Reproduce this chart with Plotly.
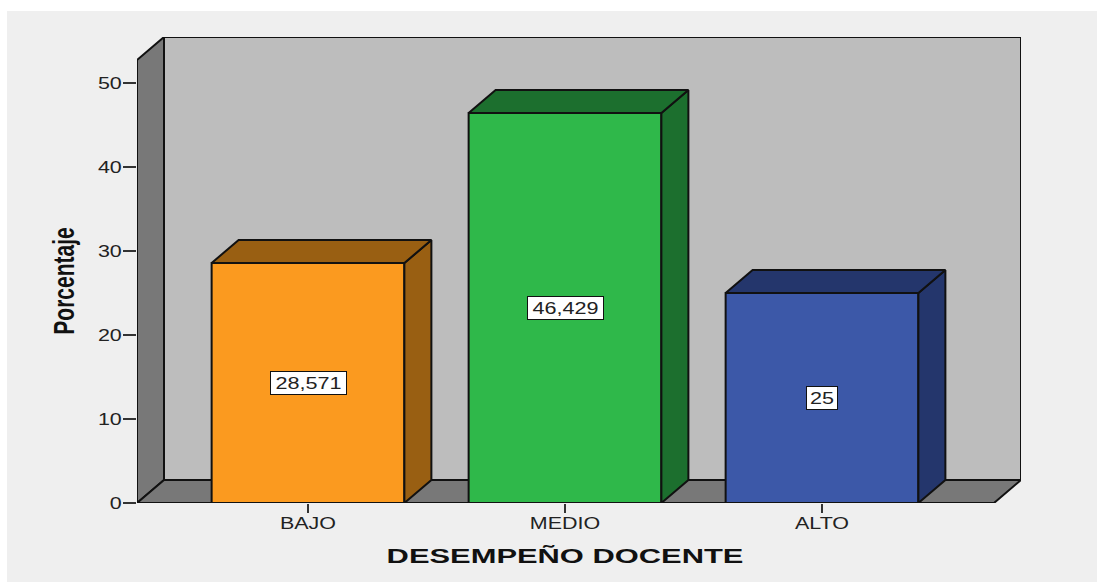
import plotly.graph_objects as go

categories = ["BAJO", "MEDIO", "ALTO"]
values = [28.571, 46.429, 25]
value_labels = ["28,571", "46,429", "25"]
label_box_widths = [71, 71, 26]
front_colors = ["#FB9A1F", "#2FB84A", "#3C58A8"]
side_colors = ["#995F12", "#1C6F2E", "#24366C"]
y_ticks = [0, 10, 20, 30, 40, 50]

W, H = 1097, 582
L, R, T, B = 137, 1021, 37, 503      # plot area in pixels
PX_Y = 8.4                            # pixels per y unit
PX_X = 257                            # pixels per category
X0 = 308                              # pixel of first category
DX = 27 / PX_X                        # 3D depth in x units
DY = 23 / PX_Y                        # 3D depth in y units
BAR_W = 0.75
x_lo = (L - X0) / PX_X
x_hi = (R - X0) / PX_X
y_hi = (B - T) / PX_Y
INK = "#111111"
WALL = "#BDBDBD"
SIDE = "#787878"
FONT = "Liberation Sans"

fig = go.Figure()


def poly(xs, ys, fill, axes=("x", "y")):
    fig.add_trace(go.Scatter(
        x=xs + xs[:1], y=ys + ys[:1], mode="lines", fill="toself", fillcolor=fill,
        line=dict(color=INK, width=2), cliponaxis=False, hoverinfo="skip",
        showlegend=False, xaxis=axes[0], yaxis=axes[1]))


# walls and floor, on the base subplot
front_top = y_hi - DY
front_right = x_hi - DX
poly([x_lo + DX, x_hi, x_hi, x_lo + DX], [DY, DY, y_hi, y_hi], WALL)
poly([x_lo, x_lo + DX, x_lo + DX, x_lo], [0, DY, y_hi, front_top], SIDE)
poly([x_lo, front_right, x_hi, x_lo + DX], [0, 0, DY, DY], SIDE)

# bars, on an overlaying subplot so they sit above the walls
xs = list(range(len(categories)))
fig.add_trace(go.Bar(
    x=xs, y=values, width=BAR_W, marker=dict(color=front_colors, line=dict(color=INK, width=2)),
    cliponaxis=False, showlegend=False, hoverinfo="skip", xaxis="x2", yaxis="y2"))
for x, v, c in zip(xs, values, side_colors):
    r = x + BAR_W / 2
    l = x - BAR_W / 2
    poly([r, r + DX, r + DX, r], [0, DY, v + DY, v], c, ("x2", "y2"))
    poly([l, r, r + DX, l + DX], [v, v, v + DY, v + DY], c, ("x2", "y2"))

annotations = [
    dict(x=x, y=v / 2, xref="x", yref="y", text=t, showarrow=False, bgcolor="#FFFFFF",
         bordercolor=INK, borderwidth=1, borderpad=2, width=bw, height=18,
         font=dict(family=FONT, size=16, color="#222222"))
    for x, v, t, bw in zip(xs, values, value_labels, label_box_widths)
]

fig.update_layout(
    width=W, height=H, autosize=False,
    margin=dict(l=L, r=W - R, t=T, b=H - B, pad=0),
    paper_bgcolor="#FFFFFF", plot_bgcolor="rgba(0,0,0,0)",
    showlegend=False, annotations=annotations,
    shapes=[dict(type="rect", xref="paper", yref="paper", layer="below",
                 x0=(7 - L) / (R - L), x1=(W - L) / (R - L),
                 y0=(B - H) / (B - T), y1=(B - 11) / (B - T),
                 fillcolor="#EFEFEF", line=dict(width=0))],
    xaxis=dict(range=[x_lo, x_hi], tickmode="array", tickvals=xs, ticktext=categories,
               showgrid=False, zeroline=False, showline=False, ticks="outside", ticklen=9,
               tickwidth=2, tickcolor="#333333", ticklabelstandoff=-3,
               tickfont=dict(family=FONT, size=16, color="#222222"),
               title=dict(text="DESEMPEÑO DOCENTE", standoff=17,
                          font=dict(family=FONT, size=21, weight=700, color="#111111"))),
    yaxis=dict(range=[0, y_hi], tickmode="array", tickvals=y_ticks,
               showgrid=False, zeroline=False, showline=False, ticks="outside", ticklen=13,
               tickwidth=2, tickcolor="#333333", ticklabelstandoff=-2,
               tickfont=dict(family=FONT, size=16, color="#222222"),
               title=dict(text="Porcentaje", standoff=20,
                          font=dict(family=FONT, size=30, weight=700, color="#111111"))),
    xaxis2=dict(overlaying="x", matches="x", visible=False),
    yaxis2=dict(overlaying="y", matches="y", visible=False),
)

# The reference is a horizontally stretched picture: widen the real text the same way.
post = """
function st(sel,f){document.querySelectorAll(sel).forEach(function(t){
  t.setAttribute('lengthAdjust','spacingAndGlyphs');
  t.setAttribute('textLength',t.getComputedTextLength()*f);});}
st('.xtick text',1.34); st('.ytick text',1.34); st('.annotation-text',1.35);
st('.xtitle',1.47); st('.ytitle',0.70);
var xt=document.querySelector('.xtitle'); if(xt){xt.setAttribute('x','565');}
var yt=document.querySelector('.ytitle');
if(yt){var px=yt.getAttribute('x'),py=parseFloat(yt.getAttribute('y'))+11;
  yt.setAttribute('y',py);yt.setAttribute('transform','rotate(-90,'+px+','+py+')');}
document.body.style.margin='0';
"""
fig.write_html("out.html", post_script=post, config={"displayModeBar": False})
